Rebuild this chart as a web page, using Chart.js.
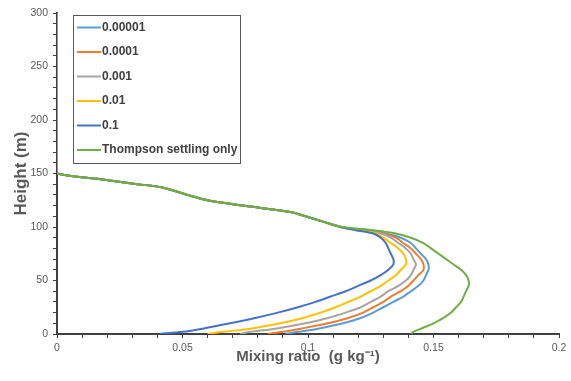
<!DOCTYPE html>
<html>
<head>
<meta charset="utf-8">
<script src="https://cdn.jsdelivr.net/npm/chart.js@4/dist/chart.umd.min.js"></script>
<style>
  body { margin: 0; background: #fff; }
  #wrap { width: 571px; height: 381px; position: relative; }
</style>
</head>
<body>
<div id="wrap"><canvas id="chart" width="571" height="381"></canvas></div>
<script>
// Heights (m) shared by every profile
const heights = [0, 2, 5, 10, 15, 20, 25, 30, 35, 40, 45, 50, 55, 60, 65, 70, 75, 80, 85, 90, 94, 97, 100, 105, 110, 114, 120, 125, 130, 137, 140, 145, 150, 155, 300]

// Mixing ratio (g/kg) for each run
const mix1e5 = [0.091, 0.096, 0.104, 0.114, 0.121, 0.126, 0.130, 0.134, 0.138, 0.141, 0.144, 0.146, 0.147, 0.148, 0.148, 0.147, 0.145, 0.143, 0.141, 0.137, 0.131, 0.123, 0.113, 0.106, 0.099, 0.093, 0.074, 0.060, 0.052, 0.042, 0.032, 0.016, 0, 0, 0]
const mix1e4 = [0.084, 0.090, 0.097, 0.108, 0.116, 0.122, 0.126, 0.130, 0.133, 0.137, 0.140, 0.142, 0.144, 0.146, 0.146, 0.145, 0.143, 0.141, 0.138, 0.135, 0.130, 0.122, 0.113, 0.106, 0.099, 0.093, 0.074, 0.060, 0.052, 0.042, 0.032, 0.016, 0, 0, 0]
const mix1e3 = [0.073, 0.077, 0.087, 0.099, 0.108, 0.115, 0.121, 0.125, 0.129, 0.132, 0.136, 0.139, 0.141, 0.142, 0.143, 0.142, 0.141, 0.139, 0.136, 0.133, 0.129, 0.121, 0.113, 0.106, 0.099, 0.093, 0.074, 0.060, 0.052, 0.042, 0.032, 0.016, 0, 0, 0]
const mix1e2 = [0.060, 0.066, 0.077, 0.089, 0.098, 0.105, 0.111, 0.116, 0.121, 0.125, 0.129, 0.132, 0.135, 0.137, 0.139, 0.139, 0.138, 0.136, 0.133, 0.130, 0.127, 0.120, 0.113, 0.106, 0.099, 0.093, 0.074, 0.060, 0.052, 0.042, 0.032, 0.016, 0, 0, 0]
const mix1e1 = [0.041, 0.050, 0.058, 0.069, 0.079, 0.088, 0.096, 0.103, 0.109, 0.115, 0.120, 0.125, 0.129, 0.132, 0.134, 0.134, 0.133, 0.132, 0.131, 0.129, 0.126, 0.119, 0.113, 0.106, 0.099, 0.093, 0.074, 0.060, 0.052, 0.042, 0.032, 0.016, 0, 0, 0]
const mixThompson = [0.141, 0.142, 0.145, 0.150, 0.154, 0.157, 0.159, 0.161, 0.162, 0.163, 0.164, 0.164, 0.163, 0.161, 0.158, 0.155, 0.152, 0.149, 0.146, 0.141, 0.135, 0.126, 0.114, 0.106, 0.099, 0.093, 0.074, 0.060, 0.052, 0.042, 0.032, 0.016, 0, 0, 0]

const seriesLabels = ["0.00001", "0.0001", "0.001", "0.01", "0.1", "Thompson settling only"]
const seriesValues = [mix1e5, mix1e4, mix1e3, mix1e2, mix1e1, mixThompson]
const seriesColors = ["#5B9BD5", "#ED7D31", "#A5A5A5", "#FFC000", "#4472C4", "#70AD47"]

const xMajor = [0, 0.05, 0.1, 0.15, 0.2]
const yMajor = [0, 50, 100, 150, 200, 250, 300]

const axisColor = "#404040"
const fontFamily = "'Liberation Sans', Arial, sans-serif"
const tickFont = { family: fontFamily, size: 10.5 }

function isMajor(v, list) {
  return list.some((m) => Math.abs(m - v) < 1e-9)
}

// Legend box drawn inside the plot, like the original
const insideLegend = {
  id: "insideLegend",
  afterDraw(chart) {
    const ctx = chart.ctx
    ctx.save()
    ctx.strokeStyle = "#595959"
    ctx.lineWidth = 1
    ctx.strokeRect(73.5, 15.5, 167, 148)
    ctx.font = "bold 12px " + fontFamily
    ctx.textBaseline = "middle"
    ctx.fillStyle = "#404040"
    chart.data.datasets.forEach((ds, i) => {
      const y = 27.5 + i * 24.5
      ctx.strokeStyle = ds.borderColor
      ctx.lineWidth = 2
      ctx.beginPath()
      ctx.moveTo(77, y)
      ctx.lineTo(101, y)
      ctx.stroke()
      ctx.fillText(ds.label, 102, y)
    })
    ctx.restore()
  },
}

const whiteBg = {
  id: "whiteBg",
  beforeDraw(chart) {
    const ctx = chart.ctx
    ctx.save()
    ctx.fillStyle = "#ffffff"
    ctx.fillRect(0, 0, chart.width, chart.height)
    ctx.restore()
  },
}

const datasets = seriesLabels.map((label, i) => ({
  label: label,
  data: heights.map((h, k) => ({ x: seriesValues[i][k], y: h })),
  borderColor: seriesColors[i],
  backgroundColor: seriesColors[i],
  borderWidth: 2,
  pointRadius: 0,
  showLine: true,
  tension: 0.3,
  fill: false,
  // later series sit on top
  order: seriesLabels.length - i,
}))

new Chart(document.getElementById("chart"), {
  type: "scatter",
  data: { datasets: datasets },
  plugins: [whiteBg, insideLegend],
  options: {
    responsive: false,
    animation: false,
    devicePixelRatio: 1,
    layout: { padding: { left: 0, top: 13, right: 12, bottom: 0 } },
    plugins: {
      legend: { display: false },
      tooltip: { enabled: false },
    },
    scales: {
      x: {
        type: "linear",
        min: 0,
        max: 0.2,
        afterFit: (scale) => { scale.height = 47 },
        border: { display: true, color: axisColor, width: 2 },
        grid: { display: true, drawOnChartArea: false, drawTicks: true, tickLength: 4, color: axisColor },
        ticks: {
          stepSize: 0.01,
          autoSkip: false,
          maxRotation: 0,
          padding: 4,
          color: "#595959",
          font: tickFont,
          callback: (v) => (isMajor(v, xMajor) ? String(Math.round(v * 100) / 100) : ""),
        },
        title: {
          display: true,
          text: "Mixing ratio  (g kg\u207B\u00B9)",
          color: "#595959",
          font: { family: fontFamily, size: 15, weight: "bold" },
          padding: { top: 0, bottom: 15 },
        },
      },
      y: {
        type: "linear",
        min: 0,
        max: 300,
        afterFit: (scale) => { scale.width = 57 },
        border: { display: true, color: axisColor, width: 2 },
        grid: { display: true, drawOnChartArea: false, drawTicks: true, tickLength: 4, color: axisColor },
        ticks: {
          stepSize: 10,
          autoSkip: false,
          padding: 5,
          color: "#595959",
          font: tickFont,
          callback: (v) => (isMajor(v, yMajor) ? String(v) : ""),
        },
        title: {
          display: true,
          text: "Height (m)",
          color: "#595959",
          font: { family: fontFamily, size: 17, weight: "bold" },
          padding: { top: 11, bottom: 0 },
        },
      },
    },
  },
})
</script>
</body>
</html>
